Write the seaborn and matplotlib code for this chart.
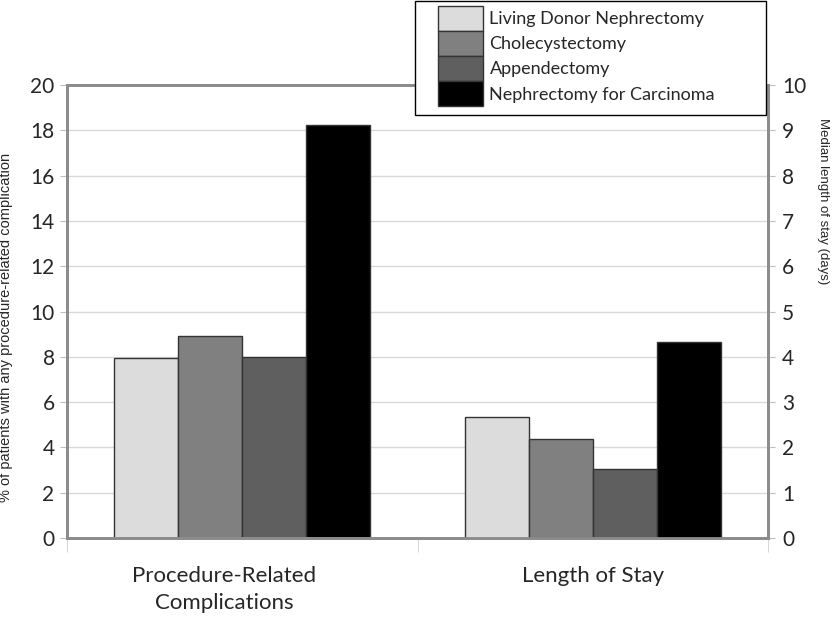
import numpy as np
import pandas as pd
import matplotlib
matplotlib.use("Agg")
import matplotlib.pyplot as plt
from matplotlib.patches import Rectangle
from matplotlib.transforms import ScaledTranslation
import seaborn as sns

# data
groups = ["Procedure-Related\nComplications", "Length of Stay"]
procedures = ["Living Donor Nephrectomy", "Cholecystectomy", "Appendectomy", "Nephrectomy for Carcinoma"]
complication_pct = [7.95, 8.9, 8.0, 18.25]
stay_days = [2.68, 2.18, 1.52, 4.32]
colors = ["#dcdcdc", "#808080", "#5f5f5f", "#000000"]

sns.set_style("white")
plt.rcParams['font.family'] = ['Lato', 'DejaVu Sans']

df1 = pd.DataFrame({'group': groups[0], 'procedure': procedures, 'value': complication_pct})
df2 = pd.DataFrame({'group': groups[1], 'procedure': procedures, 'value': stay_days})

fig = plt.figure(figsize=(8.32, 6.17), dpi=100)
ax = fig.add_axes([67/832, 1-538/617, (768-67)/832, (538-85)/617])
ax2 = ax.twinx()

pal = dict(zip(procedures, colors))
sns.barplot(data=df1, x='group', y='value', hue='procedure', order=groups, hue_order=procedures,
            palette=pal, width=0.73, ax=ax, edgecolor='#333333', linewidth=1, saturation=1, legend=True)
sns.barplot(data=df2, x='group', y='value', hue='procedure', order=groups, hue_order=procedures,
            palette=pal, width=0.73, ax=ax2, edgecolor='#333333', linewidth=1, saturation=1, legend=False)

ax.set_ylim(0, 20)
ax2.set_ylim(0, 10)
ax.set_xlim(-0.5, 1.5)
ax.set_yticks(np.arange(0, 21, 2))
ax2.set_yticks(np.arange(0, 11, 1))
ax.yaxis.grid(True, color='#d9d9d9', lw=1)
ax.set_axisbelow(True)

for a in (ax, ax2):
    for s in a.spines.values():
        s.set_color('#8c8c8c')
        s.set_linewidth(2)
    a.set_xlabel('')
ax.tick_params(axis='y', labelsize=15, length=5, color='#bfbfbf', left=True, pad=4)
ax2.tick_params(axis='y', labelsize=15, length=5, color='#bfbfbf', right=True, pad=5)
ax.tick_params(axis='x', labelsize=16, length=0, pad=20)
xlabels = ax.get_xticklabels()
for t in xlabels:
    t.set_linespacing(1.45)
# first category label sits a bit left of its bars in the reference
xlabels[0].set_transform(xlabels[0].get_transform() + ScaledTranslation(-0.18, 0, fig.dpi_scale_trans))
ax.set_xticks([-0.5, 0.5, 1.5], minor=True)
ax.tick_params(axis='x', which='minor', length=10, color='#d0d0d0', bottom=True)

ax.set_ylabel('% of patients with any procedure-related complication', fontsize=10.5,
              family='Liberation Sans', va='center', ha='center')
ax.yaxis.set_label_coords((6-67)/701, (538-327)/453)
ax2.set_ylabel('Median length of stay (days)', fontsize=9.5, family='Liberation Sans',
               rotation=-90, va='center', ha='center')
ax2.yaxis.set_label_coords((823-67)/701, (538-201)/453)

# legend box drawn separately so the left inset can be wider than the top one
fig.patches.append(Rectangle((415/832, 1-115/617), 351/832, 114/617, transform=fig.transFigure,
                             facecolor='white', edgecolor='black', lw=1, zorder=4))
handles, labels = ax.get_legend_handles_labels()
ax.get_legend().remove()
leg = fig.legend(handles, labels, loc='upper left', bbox_to_anchor=(438/832, 1 - 6/617),
                 frameon=False, fontsize=13, handlelength=2.5, handleheight=1.72,
                 labelspacing=0.03, handletextpad=0.35, borderpad=0, borderaxespad=0)
leg.set_zorder(5)

fig.savefig('out.png', dpi=100)
